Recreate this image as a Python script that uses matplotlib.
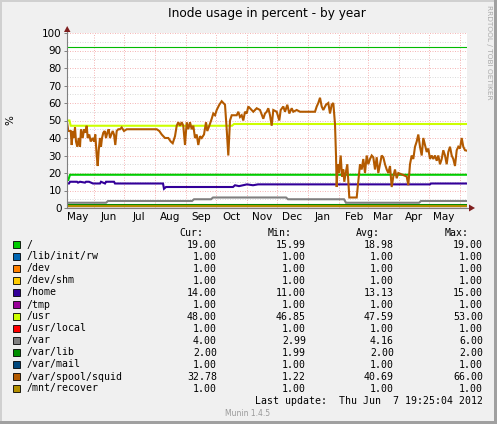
import datetime as dt
import numpy as np
import matplotlib
matplotlib.use("Agg")
import matplotlib.pyplot as plt
import matplotlib.dates as mdates
from matplotlib.patches import Rectangle, Polygon

# ---- data (days counted from the left edge of the graph) ----
start = dt.datetime(2011, 5, 5)
span_days = 400

names = ["/", "/lib/init/rw", "/dev", "/dev/shm", "/home", "/tmp", "/usr",
         "/usr/local", "/var", "/var/lib", "/var/mail", "/var/spool/squid",
         "/mnt/recover"]
colors = ["#00cc00", "#0066b3", "#ff8000", "#ffcc00", "#330099", "#990099",
          "#ccff00", "#ff0000", "#808080", "#008f00", "#00487d", "#b35a00",
          "#b38f00"]
cur = ["19.00", "1.00", "1.00", "1.00", "14.00", "1.00", "48.00", "1.00",
       "4.00", "2.00", "1.00", "32.78", "1.00"]
mins = ["15.99", "1.00", "1.00", "1.00", "11.00", "1.00", "46.85", "1.00",
        "2.99", "1.99", "1.00", "1.22", "1.00"]
avgs = ["18.98", "1.00", "1.00", "1.00", "13.13", "1.00", "47.59", "1.00",
        "4.16", "2.00", "1.00", "40.69", "1.00"]
maxs = ["19.00", "1.00", "1.00", "1.00", "15.00", "1.00", "53.00", "1.00",
        "6.00", "2.00", "1.00", "66.00", "1.00"]

root_days = [0, 1.3, 3, 400]
root_vals = [16, 16, 19, 19]

home_days = [0, 2, 3, 10, 11, 13, 18, 19, 22, 26, 27, 33, 34, 38, 39, 40,
             47, 48, 96, 97, 99, 166, 168, 172, 176, 180, 186, 191, 363, 364, 400]
home_vals = [14, 14, 15, 15, 14.5, 15, 14.5, 15, 15, 14, 14, 14, 15, 14, 15, 15,
             15, 14, 14, 11, 12, 12, 13, 12.5, 13, 13.5, 13, 13.5, 13.5, 14, 14]

usr_days = [0, 2.5, 3.7, 165, 167, 400]
usr_vals = [50, 50, 47, 47, 48, 48]

var_days = [0, 39, 41, 125, 127, 144, 146, 219, 221, 277, 279, 352, 354, 400]
var_vals = [3, 3, 4, 4, 5, 5, 6, 6, 5, 5, 3, 3, 4, 4]

varlib_days = [0, 400]
varlib_vals = [2, 2]

flat_days = [0, 400]
flat_vals = [1, 1]

squid_points = [
    (0, 49), (1.3, 44), (3.7, 44), (4.7, 36), (5.7, 44), (7, 40), (8, 46),
    (9, 38), (10.3, 35), (11.7, 40), (13, 35), (14, 45), (15.7, 40), (17, 45),
    (18.3, 43), (19.7, 47), (20.7, 40), (22.3, 42), (23.7, 38), (25.7, 40),
    (27, 38), (28.3, 42), (29.7, 30), (30.7, 24), (31.7, 33), (33, 40),
    (34, 35), (35, 40), (36.3, 43), (37.7, 44), (39, 40), (40.3, 43),
    (41.7, 45), (43, 40), (44.3, 42), (45.7, 44), (47, 42), (48.3, 36),
    (49.7, 44), (51.3, 45), (53, 45), (54.7, 46), (57, 44), (59.7, 45),
    (89.7, 45), (92.3, 44), (94.7, 42), (98, 40), (101.3, 40), (103.7, 38),
    (105.7, 37), (108, 41), (109.7, 47), (111.3, 49), (113, 47), (114.7, 49),
    (116.3, 47), (118, 36), (119.7, 49), (121.3, 45), (123, 49), (124.7, 45),
    (126.3, 47), (128, 40), (129.7, 42), (131.3, 36), (133, 41), (134.7, 40),
    (137, 42), (139, 49), (140.3, 44), (142.3, 47), (144.7, 51), (146.3, 54),
    (148, 53), (149.7, 56), (152.3, 59), (154.7, 61), (158, 59), (159.7, 45),
    (161.3, 30), (163, 50), (164.7, 53), (169.7, 53), (171.3, 55), (173, 52),
    (174.7, 53), (176.3, 50), (178, 55), (179.7, 54), (181.3, 58),
    (183, 57), (186.3, 55), (189.7, 57), (193, 56), (196.3, 51), (198, 54),
    (199.7, 55), (201.3, 57), (203, 53), (204.7, 47), (206.3, 56),
    (209.7, 55), (212.3, 50), (213.7, 56), (216.3, 58), (218, 55),
    (220.3, 59), (222.3, 54), (224.7, 57), (226.3, 55), (229.7, 56),
    (233, 55), (248, 55), (249.7, 58), (251.3, 60), (253, 63), (254.7, 58),
    (256.3, 56), (259, 59), (261.3, 60), (263, 54), (264.7, 59), (266.3, 60),
    (268, 48), (269, 30), (269.7, 12), (270.7, 25), (272, 20), (273.7, 30),
    (275, 18), (276.3, 22), (277.3, 15), (278.7, 20), (280.3, 25),
    (281.3, 15), (282.3, 6), (289.7, 6), (291.3, 15), (293, 25), (294.7, 22),
    (296.3, 28), (298, 20), (299.7, 30), (301.3, 25), (303, 28), (304.7, 30),
    (306.3, 29), (308, 22), (309.7, 29), (311.3, 20), (313, 25), (314.7, 30),
    (316.3, 29), (318, 25), (319.7, 22), (321.3, 20), (323, 24), (324.7, 12),
    (326.3, 18), (328, 22), (329.7, 17), (331.3, 20), (339.7, 18),
    (341.3, 13), (343, 25), (344.7, 30), (346.3, 28), (348, 35), (349.7, 38),
    (351.3, 42), (353, 35), (354.7, 30), (356.3, 40), (358, 36), (359.7, 32),
    (361.3, 34), (363, 28), (364.7, 30), (366.3, 28), (368, 30), (369.7, 27),
    (371.3, 30), (373, 25), (374.7, 28), (376.3, 33), (378, 30), (379.7, 25),
    (381.3, 32), (383, 35), (384.7, 30), (386.3, 28), (388, 24), (389.7, 33),
    (391.3, 35), (393, 34), (394.7, 40), (396.3, 35), (398, 33), (399.7, 32.78),
]

warn_level = 92

# ---- layout helpers (pixel coordinates, origin top-left) ----
W, H = 497, 424
fig = plt.figure(figsize=(W / 100, H / 100), dpi=100, facecolor="#f0f0f0")


def fx(px):
    return px / W


def fy(py):
    return 1 - py / H


ax = fig.add_axes([fx(67), fy(208), 400 / W, 175 / H])
ax.set_facecolor("white")

t0 = mdates.date2num(start)


def xs(days):
    return t0 + np.asarray(days, dtype=float)


# grid: light dotted lines
dots = dict(lw=0.72, ls=(0, (1, 1.5)), zorder=0)
for v in range(5, 100, 10):
    ax.axhline(v, color="#dcdcdc", **dots)
for v in range(10, 101, 10):
    ax.axhline(v, color="#f5b8b8", **dots)
month = dt.datetime(2011, 6, 1)
while month < start + dt.timedelta(days=span_days):
    ax.axvline(mdates.date2num(month), color="#f5b8b8", **dots)
    month = dt.datetime(month.year + (month.month == 12), month.month % 12 + 1, 1)

ax.axhline(warn_level, color="#00bb00", lw=0.8, zorder=1)

# series, in munin draw order
series = {
    "/": (root_days, root_vals),
    "/home": (home_days, home_vals),
    "/usr": (usr_days, usr_vals),
    "/var": (var_days, var_vals),
    "/var/lib": (varlib_days, varlib_vals),
    "/var/spool/squid": ([p[0] for p in squid_points], [p[1] for p in squid_points]),
}
for name, col in zip(names, colors):
    d, v = series.get(name, (flat_days, flat_vals))
    ax.plot(xs(d), v, color=col, lw=1.5, solid_joinstyle="miter", zorder=2)

ax.set_xlim(t0, t0 + span_days)
ax.set_ylim(0, 100)

for s in ax.spines.values():
    s.set_visible(False)

ax.set_yticks(range(0, 101, 10))
ax.tick_params(axis="y", length=2, width=0.7, color="#808080", pad=2,
               labelsize=7.5)
ax.xaxis.set_major_locator(mdates.MonthLocator())
ax.xaxis.set_major_formatter(plt.NullFormatter())
ax.xaxis.set_minor_locator(mdates.MonthLocator(bymonthday=16))
ax.xaxis.set_minor_formatter(mdates.DateFormatter("%b"))
ax.tick_params(axis="x", which="both", length=0, pad=3, labelsize=7.5)

# axis lines with arrows
ax.plot([0, 0], [0, 1.03], transform=ax.transAxes, color="#808080", lw=0.8,
        clip_on=False, zorder=3)
ax.plot([0, 1.01], [0, 0], transform=ax.transAxes, color="#808080", lw=0.8,
        clip_on=False, zorder=3)
fig.add_artist(Polygon([(fx(64), fy(32)), (fx(70.5), fy(32)), (fx(67.2), fy(26))],
                       closed=True, transform=fig.transFigure,
                       facecolor="#7f1f1f", edgecolor="none"))
fig.add_artist(Polygon([(fx(469), fy(204.5)), (fx(469), fy(211.5)), (fx(475), fy(208))],
                       closed=True, transform=fig.transFigure,
                       facecolor="#7f1f1f", edgecolor="none"))

# titles
fig.text(fx(267), fy(14), "Inode usage in percent - by year", ha="center",
         va="center", fontsize=8.7)
fig.text(fx(10), fy(120), "%", rotation=90, ha="center", va="center",
         fontsize=7.5)
fig.text(fx(489), fy(5), "RRDTOOL / TOBI OETIKER", rotation=270, ha="center",
         va="top", fontsize=5.3, color="#aaaaaa")

# legend table
mono = "DejaVu Sans Mono"
fs = 7.1
for x_r, head in zip([203, 292, 380, 469], ["Cur:", "Min:", "Avg:", "Max:"]):
    fig.text(fx(x_r), fy(233), head, ha="right", va="center",
             family=mono, fontsize=fs)
for i, name in enumerate(names):
    yc = 244.5 + 12 * i
    fig.add_artist(Rectangle((fx(13), fy(yc + 3.5)), 7 / W, 7 / H,
                             transform=fig.transFigure, facecolor=colors[i],
                             edgecolor="black", lw=0.6))
    fig.text(fx(26.5), fy(yc), name, ha="left", va="center", family=mono,
             fontsize=fs)
    for x_r, col in zip([217, 306, 394, 483], [cur, mins, avgs, maxs]):
        fig.text(fx(x_r), fy(yc), col[i], ha="right", va="center",
                 family=mono, fontsize=fs)

fig.text(fx(483), fy(400.5), "Last update:  Thu Jun  7 19:25:04 2012",
         ha="right", va="center", family=mono, fontsize=fs)
fig.text(fx(248), fy(413), "Munin 1.4.5", ha="center", va="center",
         fontsize=5.5, color="#999999")

# bevelled frame
fig.add_artist(Rectangle((0, fy(2)), 1, 2 / H, transform=fig.transFigure,
                         facecolor="#d0d0d0", edgecolor="none"))
fig.add_artist(Rectangle((0, 0), 2 / W, 1, transform=fig.transFigure,
                         facecolor="#d0d0d0", edgecolor="none"))
fig.add_artist(Rectangle((fx(494), 0), 3 / W, 1, transform=fig.transFigure,
                         facecolor="#a0a0a0", edgecolor="none"))
fig.add_artist(Rectangle((0, 0), 1, 3 / H, transform=fig.transFigure,
                         facecolor="#a0a0a0", edgecolor="none"))

fig.savefig("out.png", dpi=100, facecolor=fig.get_facecolor())
